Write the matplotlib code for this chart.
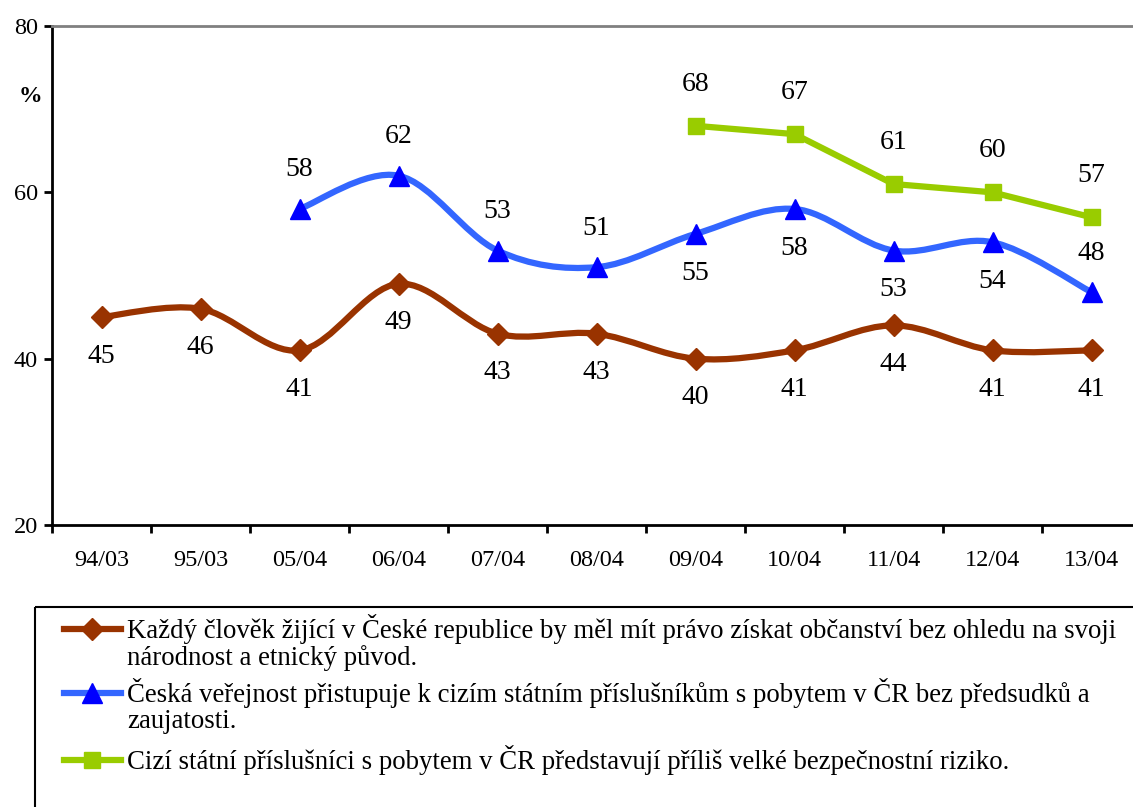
import matplotlib
matplotlib.use("Agg")
import matplotlib.pyplot as plt
from matplotlib.path import Path
from matplotlib.patches import PathPatch, Rectangle
from matplotlib.lines import Line2D
import numpy as np

plt.rcParams['font.family'] = ['Liberation Serif', 'DejaVu Serif']

categories = ["94/03", "95/03", "05/04", "06/04", "07/04", "08/04", "09/04", "10/04", "11/04", "12/04", "13/04"]
s1 = [45, 46, 41, 49, 43, 43, 40, 41, 44, 41, 41]
s2 = [None, None, 58, 62, 53, 51, 55, 58, 53, 54, 48]
s3 = [None, None, None, None, None, None, 68, 67, 61, 60, 57]
s2_label_pos = ["", "", "above", "above", "above", "above", "below", "below", "below", "below", "above"]
labels = [
    ["Každý člověk žijící v České republice by měl mít právo získat občanství bez ohledu na svoji",
     "národnost a etnický původ."],
    ["Česká veřejnost přistupuje k cizím státním příslušníkům s pobytem v ČR bez předsudků a",
     "zaujatosti."],
    ["Cizí státní příslušníci s pobytem v ČR představují příliš velké bezpečnostní riziko."],
]
c1, c1m = "#993300", "#993300"
c2, c2m = "#3366FF", "#0000FF"
c3, c3m = "#99CC00", "#99CC00"

W, H = 1133, 807
fig = plt.figure(figsize=(W / 100, H / 100), dpi=100)
ax = fig.add_axes([52 / W, 1 - 525 / H, (1141 - 52) / W, (525 - 26) / H])

def smooth_path(xs, ys):
    pts = np.column_stack([xs, ys]).astype(float)
    n = len(pts)
    verts = [pts[0]]
    codes = [Path.MOVETO]
    for i in range(n - 1):
        p0 = pts[i - 1] if i > 0 else pts[i]
        p1 = pts[i]
        p2 = pts[i + 1]
        p3 = pts[i + 2] if i + 2 < n else pts[i + 1]
        cp1 = p1 + (p2 - p0) / 6.0
        cp2 = p2 - (p3 - p1) / 6.0
        verts += [cp1, cp2, p2]
        codes += [Path.CURVE4] * 3
    return Path(verts, codes)

def valid(series):
    xs = [i for i, v in enumerate(series) if v is not None]
    ys = [v for v in series if v is not None]
    return xs, ys

lw = 4.5
ms_d, ms_t, ms_s = 11, 14, 11
x1, y1 = valid(s1)
ax.add_patch(PathPatch(smooth_path(x1, y1), fill=False, edgecolor=c1, lw=lw, capstyle='butt', zorder=3))
ax.plot(x1, y1, ls='none', marker='D', ms=ms_d, color=c1m, zorder=4)

x2, y2 = valid(s2)
ax.add_patch(PathPatch(smooth_path(x2, y2), fill=False, edgecolor=c2, lw=lw, capstyle='butt', zorder=3))
ax.plot(x2, y2, ls='none', marker='^', ms=ms_t, color=c2m, zorder=4)

x3, y3 = valid(s3)
ax.plot(x3, y3, color=c3, lw=lw, marker='s', ms=ms_s, mfc=c3m, mec=c3m, zorder=3)

fs_lab = 20
off = 4.7
for x, y in zip(x1, y1):
    ax.text(x, y - off, str(y), ha='center', va='center', fontsize=fs_lab)
for x, y in zip(x2, y2):
    d = off if s2_label_pos[x] == "above" else -off
    ax.text(x, y + d, str(y), ha='center', va='center', fontsize=fs_lab)
for x, y in zip(x3, y3):
    ax.text(x, y + 5.0, str(y), ha='center', va='center', fontsize=fs_lab)

ax.set_xlim(-0.5, 10.5)
ax.set_ylim(20, 80)
ax.set_yticks([20, 40, 60, 80])
ax.set_xticks(range(len(categories)))
ax.set_xticklabels(categories)
ax.set_xticks(np.arange(-0.5, 10.6, 1), minor=True)
ax.tick_params(axis='x', which='major', length=0, pad=18, labelsize=17.5)
ax.tick_params(axis='x', which='minor', length=6, width=2, direction='out')
ax.tick_params(axis='y', length=6, width=2, direction='out', labelsize=17.5, pad=4)
for sp in ['left', 'bottom']:
    ax.spines[sp].set_linewidth(2)
    ax.spines[sp].set_color('black')
ax.spines['right'].set_visible(False)
ax.spines['top'].set_color('#808080')
ax.spines['top'].set_linewidth(2)

fig.text(30 / W, 1 - 96 / H, "%", ha='center', va='center', fontsize=17, fontweight='bold')

# legend (in pixel coords)
lax = fig.add_axes([0, 0, 1, 1])
lax.set_xlim(0, W)
lax.set_ylim(H, 0)
lax.axis('off')
lax.add_patch(Rectangle((35, 607), 1200, 300, fill=False, edgecolor='black', lw=1.5))
rows = [(629, c1, 'D', c1m, ms_d), (693, c2, '^', c2m, ms_t), (760, c3, 's', c3m, ms_s)]
for (yy, lc, mk, mc, ms), lab in zip(rows, labels):
    lax.add_line(Line2D([64, 121], [yy, yy], color=lc, lw=lw))
    lax.add_line(Line2D([92], [yy], marker=mk, ms=ms, color=mc, ls='none'))
    for k, line in enumerate(lab):
        lax.text(127, yy + 29 * k, line, ha='left', va='center', fontsize=19.3)

fig.savefig("out.png", dpi=100)
